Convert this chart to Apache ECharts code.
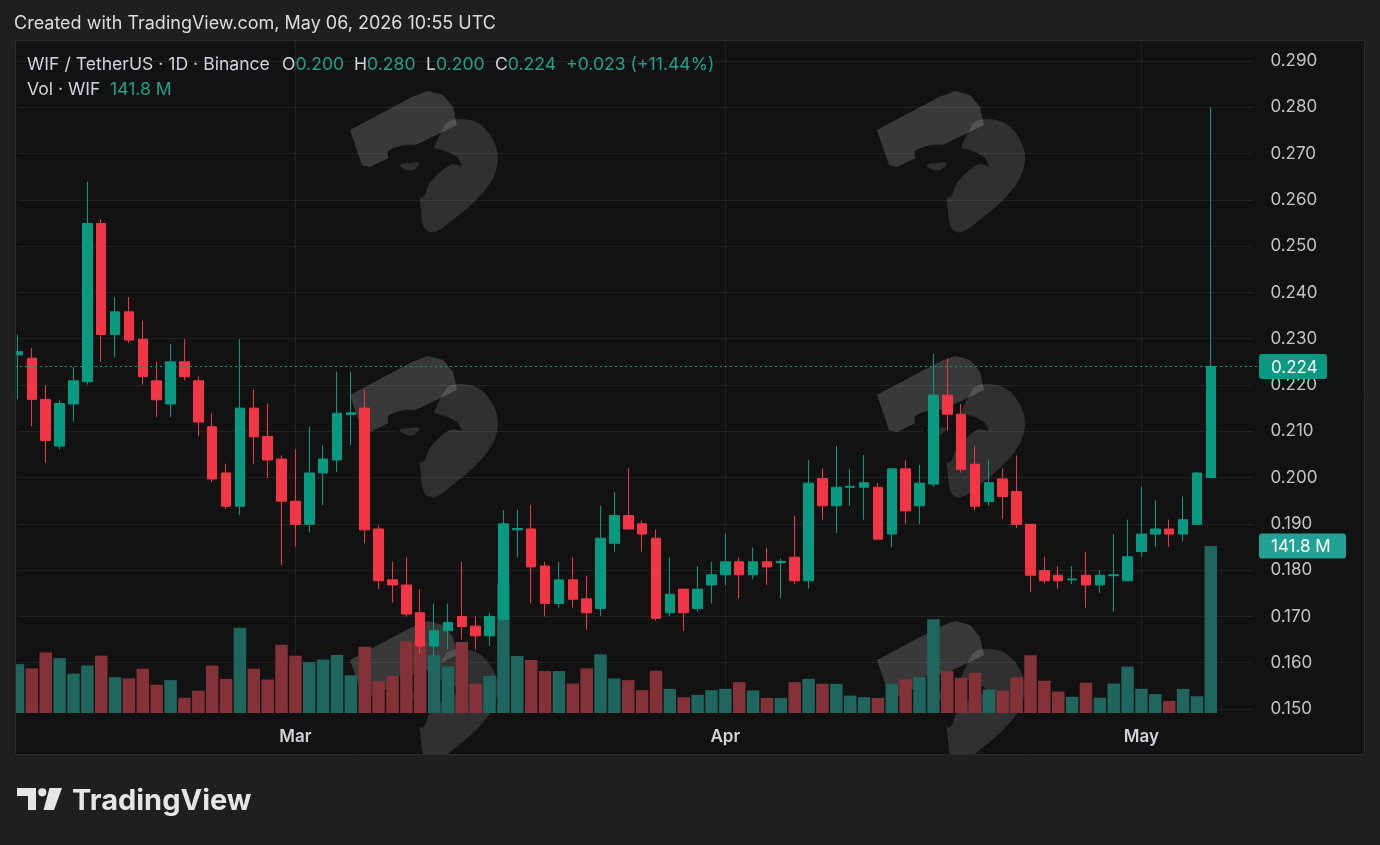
<!DOCTYPE html>
<html><head><meta charset="utf-8">
<script src="https://cdn.jsdelivr.net/npm/echarts@6/dist/echarts.min.js"></script>
<style>html,body{margin:0;padding:0;background:#1f1f1f;}#c{width:1380px;height:845px;}</style>
</head><body><div id="c"></div><script>
// ---- data (WIF / TetherUS, 1D, Binance) ----
const startDate = '2026-02-09';
const extraDays = 3; // empty space to the right of the last candle
const openP  = [0.2265,0.2258,0.2169,0.2068,0.2159,0.2207,0.2549,0.2309,0.2358,0.2299,0.2209,0.2159,0.2250,0.2209,0.2110,0.2010,0.1938,0.2150,0.2089,0.2040,0.1949,0.1899,0.2010,0.2038,0.2136,0.2150,0.1889,0.1779,0.1768,0.1708,0.1636,0.1669,0.1700,0.1679,0.1658,0.1694,0.1887,0.1889,0.1809,0.1728,0.1779,0.1738,0.1717,0.1858,0.1918,0.1900,0.1869,0.1708,0.1759,0.1717,0.1768,0.1790,0.1818,0.1790,0.1818,0.1816,0.1828,0.1777,0.1998,0.1939,0.1979,0.1979,0.1979,0.1878,0.2019,0.1939,0.1986,0.2178,0.2137,0.2029,0.1948,0.1997,0.1970,0.1899,0.1799,0.1789,0.1779,0.1789,0.1768,0.1788,0.1777,0.1840,0.1878,0.1889,0.1878,0.1899,0.2000];
const closeP = [0.2272,0.2169,0.2080,0.2160,0.2209,0.2549,0.2309,0.2358,0.2297,0.2218,0.2168,0.2250,0.2218,0.2120,0.1997,0.1938,0.2150,0.2088,0.2038,0.1949,0.1899,0.2010,0.2040,0.2139,0.2140,0.1887,0.1777,0.1768,0.1705,0.1636,0.1669,0.1687,0.1678,0.1658,0.1700,0.1900,0.1890,0.1807,0.1728,0.1779,0.1737,0.1708,0.1869,0.1918,0.1889,0.1878,0.1696,0.1748,0.1708,0.1759,0.1790,0.1818,0.1790,0.1818,0.1807,0.1819,0.1777,0.1988,0.1939,0.1979,0.1981,0.1989,0.1867,0.2019,0.1928,0.1988,0.2178,0.2137,0.2018,0.1938,0.1989,0.1959,0.1899,0.1789,0.1777,0.1777,0.1781,0.1768,0.1789,0.1790,0.1829,0.1878,0.1889,0.1878,0.1909,0.2010,0.2240];
const lowP   = [0.2169,0.2111,0.2032,0.2061,0.2121,0.2201,0.2250,0.2260,0.2291,0.2201,0.2131,0.2131,0.2210,0.2089,0.1991,0.1932,0.1919,0.2030,0.1999,0.1811,0.1851,0.1881,0.1940,0.2012,0.2070,0.1858,0.1759,0.1730,0.1700,0.1620,0.1613,0.1629,0.1650,0.1629,0.1636,0.1689,0.1828,0.1728,0.1700,0.1719,0.1719,0.1671,0.1701,0.1840,0.1887,0.1840,0.1691,0.1701,0.1669,0.1710,0.1728,0.1768,0.1739,0.1780,0.1768,0.1739,0.1770,0.1760,0.1909,0.1880,0.1939,0.1909,0.1866,0.1849,0.1900,0.1900,0.1980,0.2101,0.2011,0.1930,0.1939,0.1910,0.1891,0.1753,0.1772,0.1760,0.1770,0.1719,0.1751,0.1710,0.1776,0.1829,0.1850,0.1850,0.1861,0.1898,0.2000];
const highP  = [0.2309,0.2280,0.2199,0.2167,0.2239,0.2639,0.2558,0.2390,0.2390,0.2339,0.2250,0.2289,0.2299,0.2218,0.2139,0.2030,0.2299,0.2190,0.2160,0.2048,0.2061,0.2110,0.2069,0.2229,0.2229,0.2189,0.1897,0.1818,0.1828,0.1759,0.1728,0.1728,0.1818,0.1700,0.1708,0.1930,0.1930,0.1941,0.1818,0.1818,0.1828,0.1788,0.1939,0.1969,0.2020,0.1907,0.1888,0.1828,0.1760,0.1809,0.1818,0.1879,0.1828,0.1849,0.1849,0.1825,0.1918,0.2038,0.2020,0.2068,0.2019,0.2049,0.1988,0.2020,0.2038,0.2027,0.2267,0.2257,0.2159,0.2068,0.2039,0.2020,0.2048,0.1900,0.1829,0.1809,0.1809,0.1840,0.1800,0.1878,0.1909,0.1980,0.1951,0.1909,0.1959,0.2012,0.2800];
const volumeM = [41.5,37.9,51.4,46.6,33.4,40.3,48.7,30.4,29.4,37.6,24.0,27.9,12.9,18.9,40.3,28.9,72.4,37.6,28.5,58.0,48.7,43.3,45.4,49.3,32.0,56.2,27.0,31.5,61.0,61.0,49.2,39.5,60.2,25.0,31.6,110.0,48.4,45.0,35.6,35.6,25.1,37.9,49.8,29.3,27.9,19.4,35.9,20.5,13.4,15.4,19.4,20.5,26.2,19.1,12.8,12.8,26.2,29.0,24.8,24.8,14.8,13.4,12.8,24.8,28.5,30.5,79.7,35.6,29.9,34.2,19.9,18.9,30.2,49.0,27.4,18.2,13.7,25.7,13.0,25.0,39.4,20.5,16.0,10.3,20.5,14.2,141.8];
const priceTicks = {min: 0.15, max: 0.29, step: 0.01};
const monthNames = ['Jan','Feb','Mar','Apr','May','Jun','Jul','Aug','Sep','Oct','Nov','Dec'];

// ---- derived categories ----
const dates = [];
{
  const t0 = Date.parse(startDate + 'T00:00:00Z');
  for (let i = 0; i < openP.length + extraDays; i++) dates.push(new Date(t0 + i * 86400000).toISOString().slice(0, 10));
}
const isMonthStart = i => dates[i] && dates[i].slice(8) === '01';

const UP = '#089981', DOWN = '#F23645';
const UPV = '#1f665e', DOWNV = '#843237';
const FONT = 'Inter, "Noto Sans", sans-serif';

const candleData = openP.map((o, i) => [o, closeP[i], lowP[i], highP[i]]);
const volData = volumeM.map((v, i) => ({value: v, itemStyle: {color: closeP[i] >= openP[i] ? UPV : DOWNV}}));
const last = openP.length - 1;
const volMax = Math.max(...volumeM);

const chart = echarts.init(document.getElementById('c'), null, {renderer: 'canvas'});
const gridL = 18, gridR = 127.6;
chart.setOption({
  backgroundColor: '#121212',
  animation: false,
  grid: [
    {left: gridL, right: gridR, top: 61, height: 648, outerBoundsMode: 'none', containLabel: false},
    {left: gridL, right: gridR, top: 546, height: 167, outerBoundsMode: 'none', containLabel: false}
  ],
  xAxis: [
    {type: 'category', gridIndex: 0, data: dates, boundaryGap: false,
     axisLine: {show: false}, axisTick: {show: false}, axisLabel: {show: false}, splitLine: {show: false}},
    {type: 'category', gridIndex: 1, data: dates, boundaryGap: false,
     axisLine: {show: false}, axisTick: {show: false}, splitLine: {show: false},
     axisLabel: {show: true, interval: (i) => isMonthStart(i), hideOverlap: false,
       formatter: (v) => monthNames[parseInt(v.slice(5, 7), 10) - 1],
       color: '#d0d3d8', fontSize: 17, fontWeight: 600, fontFamily: FONT, margin: 15}}
  ],
  yAxis: [
    {type: 'value', gridIndex: 0, position: 'right', min: priceTicks.min, max: priceTicks.max, interval: priceTicks.step,
     axisLine: {show: false}, axisTick: {show: false},
     splitLine: {show: true, lineStyle: {color: '#232323', width: 1}},
     axisLabel: {margin: 18, color: '#c4c4c4', fontSize: 17, fontFamily: FONT, padding: [4, 0, 0, 0], formatter: v => v.toFixed(3)}},
    {type: 'value', gridIndex: 1, min: 0, max: volMax, show: false, splitLine: {show: false}}
  ],
  series: [
    {type: 'bar', name: 'Vol', xAxisIndex: 1, yAxisIndex: 1, data: volData, barWidth: '90%', z: 2},
    {type: 'candlestick', name: 'WIF', xAxisIndex: 0, yAxisIndex: 0, data: candleData, barWidth: 10, z: 3,
     itemStyle: {color: UP, color0: DOWN, borderColor: UP, borderColor0: DOWN, borderWidth: 1}}
  ]
});

// ---- decorations (frame, texts, month lines, watermarks, last-value labels) ----
const g = [];
// month vertical grid lines, positioned by the axis scale
dates.forEach((d, i) => {
  if (isMonthStart(i)) {
    const x = Math.round(chart.convertToPixel({xAxisIndex: 0}, i)) + 0.5;
    g.push({type: 'line', z: 0, silent: true, shape: {x1: x, y1: 41, x2: x, y2: 713}, style: {stroke: '#232323', lineWidth: 1}});
  }
});
// watermarks (below the series)
const wmPos = [[345, 85], [872, 85], [345, 350], [872, 350], [345, 615], [872, 615]];
wmPos.forEach(p => {
  g.push({type: 'group', x: p[0], y: p[1], z: 1, silent: true, children: [
    {type: 'polygon', z: 1, shape: {points: [[5,45],[67,12],[83,6],[98,10],[108,22],[112,40],[25,82],[17,80]]}, style: {fill: 'rgba(255,255,255,0.17)'}},
    {type: 'polygon', z: 1, shape: {smooth: 0.35, points: [[100,40],[113,34],[133,38],[147,53],[153,72],[148,93],[133,113],[110,133],[90,147],[80,144],[76,125],[76,100]]}, style: {fill: 'rgba(255,255,255,0.13)'}},
    {type: 'polygon', z: 1, shape: {smooth: 0.2, points: [[43,66],[60,60],[80,61],[100,66],[112,72],[117,81],[108,79],[100,83],[92,90],[84,99],[80,110],[76,113],[70,96],[58,85],[45,78]]}, style: {fill: '#121212'}},
    {type: 'polygon', z: 1, shape: {smooth: 0.5, points: [[55,80],[65,78],[74,78],[70,84],[62,85]]}, style: {fill: 'rgba(255,255,255,0.12)'}}
  ]});
});
// last price line + labels, positioned by the axis scales
const yLast = chart.convertToPixel({yAxisIndex: 0}, closeP[last]);
const yVol = chart.convertToPixel({yAxisIndex: 1}, volumeM[last]);
const yl = Math.round(yLast) + 0.5;
g.push({type: 'line', z: 4, silent: true, shape: {x1: 15, y1: yl, x2: 1258, y2: yl}, style: {stroke: UP, lineWidth: 1, lineDash: [2, 3]}});
const badge = (y, w, txt, col) => {
  g.push({type: 'rect', z: 12, silent: true, shape: {x: 1259, y: y - 12.5, width: w, height: 25, r: 3}, style: {fill: col}});
  g.push({type: 'text', z: 13, silent: true, x: 1271, y: y + 1, style: {text: txt, fill: '#ffffff', font: '17px ' + FONT, verticalAlign: 'middle'}});
};
badge(yLast, 68, closeP[last].toFixed(3), UP);
badge(yVol, 87, volumeM[last].toFixed(1) + ' M', '#22a295');
// outer frame
const OUT = '#1f1f1f';
g.push({type: 'rect', z: 10, silent: true, shape: {x: 0, y: 0, width: 1380, height: 41}, style: {fill: OUT}});
g.push({type: 'rect', z: 10, silent: true, shape: {x: 0, y: 755, width: 1380, height: 90}, style: {fill: OUT}});
g.push({type: 'rect', z: 10, silent: true, shape: {x: 0, y: 0, width: 15, height: 845}, style: {fill: OUT}});
g.push({type: 'rect', z: 10, silent: true, shape: {x: 1365, y: 0, width: 15, height: 845}, style: {fill: OUT}});
g.push({type: 'rect', z: 11, silent: true, shape: {x: 15.5, y: 40.5, width: 1349, height: 714}, style: {fill: 'none', stroke: '#2c2c2c', lineWidth: 1}});
// header
g.push({type: 'text', z: 12, x: 14, y: 24, style: {text: 'Created with TradingView.com, May 06, 2026 10:55 UTC', fill: '#dcdcdc', font: '18px ' + FONT, verticalAlign: 'middle'}});
// legend
const TXT = '#d1d4dc', VAL = '#22a08b', LF = '17.6px ' + FONT;
const lbl = (x, y, t, c) => g.push({type: 'text', z: 12, x, y, style: {text: t, fill: c, font: LF, verticalAlign: 'middle'}});
lbl(27, 65, 'WIF / TetherUS · 1D · Binance', TXT);
const chg = closeP[last] - closeP[last - 1];
const pct = chg / closeP[last - 1] * 100;
[['O', openP[last], 282], ['H', highP[last], 354], ['L', lowP[last], 426], ['C', closeP[last], 495]].forEach(([k, v, x]) => {
  g.push({type: 'text', z: 12, x, y: 65, style: {text: '{k|' + k + '}{v|' + v.toFixed(3) + '}', verticalAlign: 'middle', font: LF,
    rich: {k: {fill: TXT, fontSize: 17.6, fontFamily: FONT}, v: {fill: VAL, fontSize: 17.6, fontFamily: FONT}}}});
});
lbl(566, 65, (chg >= 0 ? '+' : '') + chg.toFixed(3) + ' (' + (pct >= 0 ? '+' : '') + pct.toFixed(2) + '%)', VAL);
lbl(27, 90, 'Vol · WIF', TXT);
lbl(110, 90, volumeM[last].toFixed(1) + ' M', VAL);
// TradingView logo
g.push({type: 'rect', z: 12, silent: true, shape: {x: 17, y: 788, width: 19, height: 8}, style: {fill: '#e6e6e6'}});
g.push({type: 'rect', z: 12, silent: true, shape: {x: 28, y: 788, width: 8, height: 22}, style: {fill: '#e6e6e6'}});
g.push({type: 'circle', z: 12, silent: true, shape: {cx: 42.3, cy: 792.3, r: 4.1}, style: {fill: '#e6e6e6'}});
g.push({type: 'polygon', z: 12, silent: true, shape: {points: [[49.5,788],[62,788],[54,810],[43.5,810]]}, style: {fill: '#e6e6e6'}});
g.push({type: 'text', z: 12, x: 72, y: 801, style: {text: 'TradingView', fill: '#e6e6e6', font: 'bold 29px ' + FONT, verticalAlign: 'middle'}});

chart.setOption({graphic: g});
</script></body></html>
